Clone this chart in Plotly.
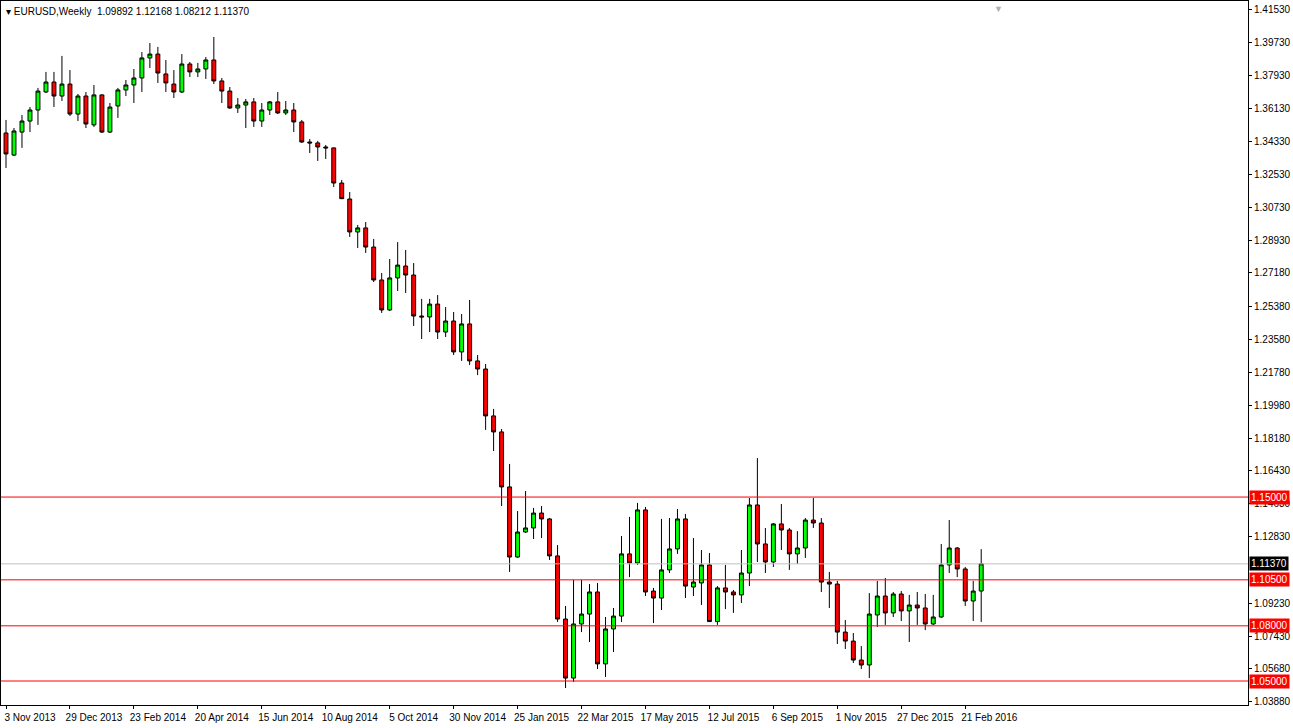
import plotly.graph_objects as go

# weekly EURUSD candles, 3 Nov 2013 .. 6 Mar 2016
opens = [1.3479, 1.3359, 1.3484, 1.3544, 1.3604, 1.3702, 1.3756, 1.3680, 1.3745, 1.3582,
         1.3680, 1.3523, 1.3686, 1.3484, 1.3626, 1.3713, 1.3740, 1.3778, 1.3887, 1.3908,
         1.3800, 1.3745, 1.3702, 1.3854, 1.3811, 1.3827, 1.3876, 1.3762, 1.3707, 1.3615,
         1.3631, 1.3648, 1.3544, 1.3604, 1.3648, 1.3588, 1.3604, 1.3539, 1.3430, 1.3425,
         1.3403, 1.3398, 1.3207, 1.3120, 1.2941, 1.2963, 1.2859, 1.2680, 1.2517, 1.2691,
         1.2756, 1.2707, 1.2484, 1.2479, 1.2549, 1.2397, 1.2457, 1.2289, 1.2441, 1.2240,
         1.2196, 1.1941, 1.1854, 1.1555, 1.1174, 1.1310, 1.1332, 1.1413, 1.1381, 1.1180,
         1.0837, 1.0516, 1.0810, 1.0864, 1.0984, 1.0593, 1.0783, 1.0853, 1.1191, 1.1142,
         1.1430, 1.0989, 1.0951, 1.1104, 1.1218, 1.1381, 1.1011, 1.1033, 1.1131, 1.0823,
         1.1006, 1.0984, 1.0968, 1.1087, 1.1457, 1.1245, 1.1147, 1.1354, 1.1321, 1.1191,
         1.1223, 1.1375, 1.1359, 1.1038, 1.1027, 1.0766, 1.0717, 1.0614, 1.0587, 1.0859,
         1.0962, 1.0870, 1.0973, 1.0881, 1.0913, 1.0897, 1.0810, 1.0848, 1.1131, 1.1223,
         1.1109, 1.0935, 1.09892]
highs = [1.3550, 1.3506, 1.3577, 1.3620, 1.3724, 1.3811, 1.3811, 1.3898, 1.3821, 1.3691,
         1.3702, 1.3740, 1.3690, 1.3642, 1.3724, 1.3767, 1.3827, 1.3919, 1.3968, 1.3947,
         1.3876, 1.3821, 1.3908, 1.3865, 1.3860, 1.3892, 1.4001, 1.3778, 1.3729, 1.3669,
         1.3664, 1.3669, 1.3642, 1.3653, 1.3702, 1.3653, 1.3642, 1.3550, 1.3446, 1.3436,
         1.3414, 1.3400, 1.3224, 1.3158, 1.2979, 1.2995, 1.2903, 1.2718, 1.2794, 1.2886,
         1.2843, 1.2772, 1.2577, 1.2577, 1.2598, 1.2533, 1.2506, 1.2495, 1.2571, 1.2272,
         1.2223, 1.1979, 1.1870, 1.1680, 1.1424, 1.1533, 1.1441, 1.1451, 1.1386, 1.1239,
         1.0908, 1.1049, 1.1049, 1.1027, 1.1033, 1.0848, 1.0897, 1.1288, 1.1392, 1.1468,
         1.1446, 1.1006, 1.1381, 1.1386, 1.1435, 1.1408, 1.1277, 1.1212, 1.1196, 1.1016,
         1.1131, 1.0995, 1.1212, 1.1495, 1.1712, 1.1332, 1.1359, 1.1462, 1.1332, 1.1315,
         1.1386, 1.1495, 1.1386, 1.1093, 1.1044, 1.0832, 1.0761, 1.0690, 1.0978, 1.1044,
         1.1060, 1.0984, 1.0989, 1.0968, 1.0984, 1.0973, 1.0968, 1.1245, 1.1375, 1.1228,
         1.1120, 1.1044, 1.12168]
lows = [1.3289, 1.3354, 1.3398, 1.3484, 1.3523, 1.3696, 1.3620, 1.3653, 1.3571, 1.3544,
        1.3506, 1.3512, 1.3479, 1.3479, 1.3561, 1.3680, 1.3642, 1.3702, 1.3832, 1.3751,
        1.3702, 1.3669, 1.3696, 1.3783, 1.3783, 1.3773, 1.3745, 1.3642, 1.3610, 1.3588,
        1.3506, 1.3512, 1.3512, 1.3577, 1.3582, 1.3577, 1.3484, 1.3425, 1.3370, 1.3327,
        1.3338, 1.3185, 1.3120, 1.2914, 1.2854, 1.2827, 1.2669, 1.2501, 1.2511, 1.2620,
        1.2609, 1.2430, 1.2359, 1.2397, 1.2359, 1.2370, 1.2272, 1.2240, 1.2218, 1.2163,
        1.1865, 1.1750, 1.1451, 1.1093, 1.1170, 1.1305, 1.1272, 1.1277, 1.1158, 1.0821,
        1.0462, 1.0495, 1.0766, 1.0712, 1.0565, 1.0522, 1.0658, 1.0821, 1.1065, 1.1131,
        1.0962, 1.0815, 1.0886, 1.1087, 1.1191, 1.0951, 1.0962, 1.0913, 1.0821, 1.0805,
        1.0891, 1.0870, 1.0924, 1.1016, 1.1147, 1.1087, 1.1120, 1.1212, 1.1104, 1.1136,
        1.1169, 1.1332, 1.0984, 1.0897, 1.0701, 1.0674, 1.0598, 1.0565, 1.0516, 1.0794,
        1.0805, 1.0848, 1.0826, 1.0712, 1.0805, 1.0777, 1.0805, 1.0843, 1.1087, 1.1065,
        1.0908, 1.0826, 1.08212]
closes = [1.3365, 1.3490, 1.3544, 1.3604, 1.3707, 1.3756, 1.3680, 1.3745, 1.3582, 1.3680,
          1.3528, 1.3686, 1.3484, 1.3620, 1.3713, 1.3740, 1.3778, 1.3887, 1.3908, 1.3805,
          1.3751, 1.3702, 1.3854, 1.3811, 1.3827, 1.3876, 1.3762, 1.3707, 1.3615, 1.3631,
          1.3648, 1.3544, 1.3604, 1.3648, 1.3588, 1.3604, 1.3539, 1.3430, 1.3425, 1.3403,
          1.3398, 1.3207, 1.3122, 1.2941, 1.2963, 1.2859, 1.2680, 1.2517, 1.2691, 1.2761,
          1.2707, 1.2484, 1.2479, 1.2549, 1.2397, 1.2457, 1.2289, 1.2441, 1.2240, 1.2196,
          1.1941, 1.1854, 1.1555, 1.1174, 1.1310, 1.1332, 1.1413, 1.1381, 1.1180, 1.0837,
          1.0516, 1.0810, 1.0864, 1.0984, 1.0593, 1.0783, 1.0853, 1.1191, 1.1142, 1.1430,
          1.0984, 1.0951, 1.1104, 1.1218, 1.1381, 1.1016, 1.1038, 1.1131, 1.0823, 1.1006,
          1.0984, 1.0968, 1.1087, 1.1457, 1.1245, 1.1147, 1.1354, 1.1321, 1.1191, 1.1223,
          1.1375, 1.1359, 1.1038, 1.1027, 1.0766, 1.0717, 1.0614, 1.0587, 1.0864, 1.0962,
          1.0870, 1.0973, 1.0881, 1.0913, 1.0897, 1.0810, 1.0848, 1.1131, 1.1223, 1.1109,
          1.0935, 1.0989, 1.11370]

date_labels = ["3 Nov 2013", "29 Dec 2013", "23 Feb 2014", "20 Apr 2014", "15 Jun 2014",
               "10 Aug 2014", "5 Oct 2014", "30 Nov 2014", "25 Jan 2015", "22 Mar 2015",
               "17 May 2015", "12 Jul 2015", "6 Sep 2015", "1 Nov 2015", "27 Dec 2015",
               "21 Feb 2016"]
price_ticks = [1.41530, 1.39730, 1.37930, 1.36130, 1.34330, 1.32530, 1.30730, 1.28930,
               1.27180, 1.25380, 1.23580, 1.21780, 1.19980, 1.18180, 1.16430, 1.14630,
               1.12830, 1.09230, 1.07430, 1.05680, 1.03880]
levels = [1.15, 1.105, 1.08, 1.05]
last_price = 1.11370

weeks = list(range(len(opens)))
FONT = "Liberation Sans"

fig = go.Figure(go.Candlestick(
    x=weeks, open=opens, high=highs, low=lows, close=closes,
    increasing=dict(fillcolor="#00ff00", line=dict(color="black", width=1)),
    decreasing=dict(fillcolor="#ff0000", line=dict(color="black", width=1)),
    whiskerwidth=0, hoverinfo="skip",
))

# support / resistance lines and the current price line
for lv in levels:
    fig.add_hline(y=lv, line=dict(color="red", width=1))
fig.add_hline(y=last_price, line=dict(color="#c0c0c0", width=1))

# price boxes on the right axis
for lv in levels:
    fig.add_annotation(x=1, xref="paper", y=lv, yref="y", xanchor="left", yanchor="middle",
                       text="%.5f" % lv, showarrow=False, xshift=1, bgcolor="red",
                       font=dict(color="white", size=10, family=FONT), borderpad=1)
fig.add_annotation(x=1, xref="paper", y=last_price, yref="y", xanchor="left", yanchor="middle",
                   text="%.5f" % last_price, showarrow=False, xshift=1, bgcolor="black",
                   font=dict(color="white", size=10, family=FONT), borderpad=1)

fig.add_annotation(x=0, xref="paper", y=1, yref="paper", xanchor="left", yanchor="top",
                   text="▾ EURUSD,Weekly  %.5f %.5f %.5f %.5f" % (opens[-1], highs[-1], lows[-1], closes[-1]),
                   showarrow=False, xshift=3, yshift=-3,
                   font=dict(color="black", size=10, family=FONT))
fig.add_annotation(x=0.8, xref="paper", y=1, yref="paper", xanchor="center", yanchor="top",
                   text="▼", showarrow=False, yshift=-1,
                   font=dict(color="#b0b0b0", size=9))

fig.update_layout(
    width=1293, height=728,
    margin=dict(l=1, r=45, t=1, b=23),
    paper_bgcolor="white", plot_bgcolor="white",
    showlegend=False,
    font=dict(family=FONT, size=10, color="black"),
    xaxis=dict(
        range=[-0.625, 155.375], rangeslider=dict(visible=False),
        tickvals=list(range(0, 121, 8)), ticktext=date_labels,
        ticks="outside", ticklen=3, tickcolor="black", ticklabelshift=24,
        showgrid=False, zeroline=False,
        showline=True, linecolor="black", mirror=True,
    ),
    yaxis=dict(
        side="right", range=[1.03696, 1.41965],
        tickvals=price_ticks, ticktext=["%.5f" % v for v in price_ticks],
        ticks="outside", ticklen=3, tickcolor="black",
        showgrid=False, zeroline=False,
        showline=True, linecolor="black", mirror=True,
    ),
)

fig.write_html("out.html", config={"displayModeBar": False},
               post_script="document.body.style.margin='0';")
